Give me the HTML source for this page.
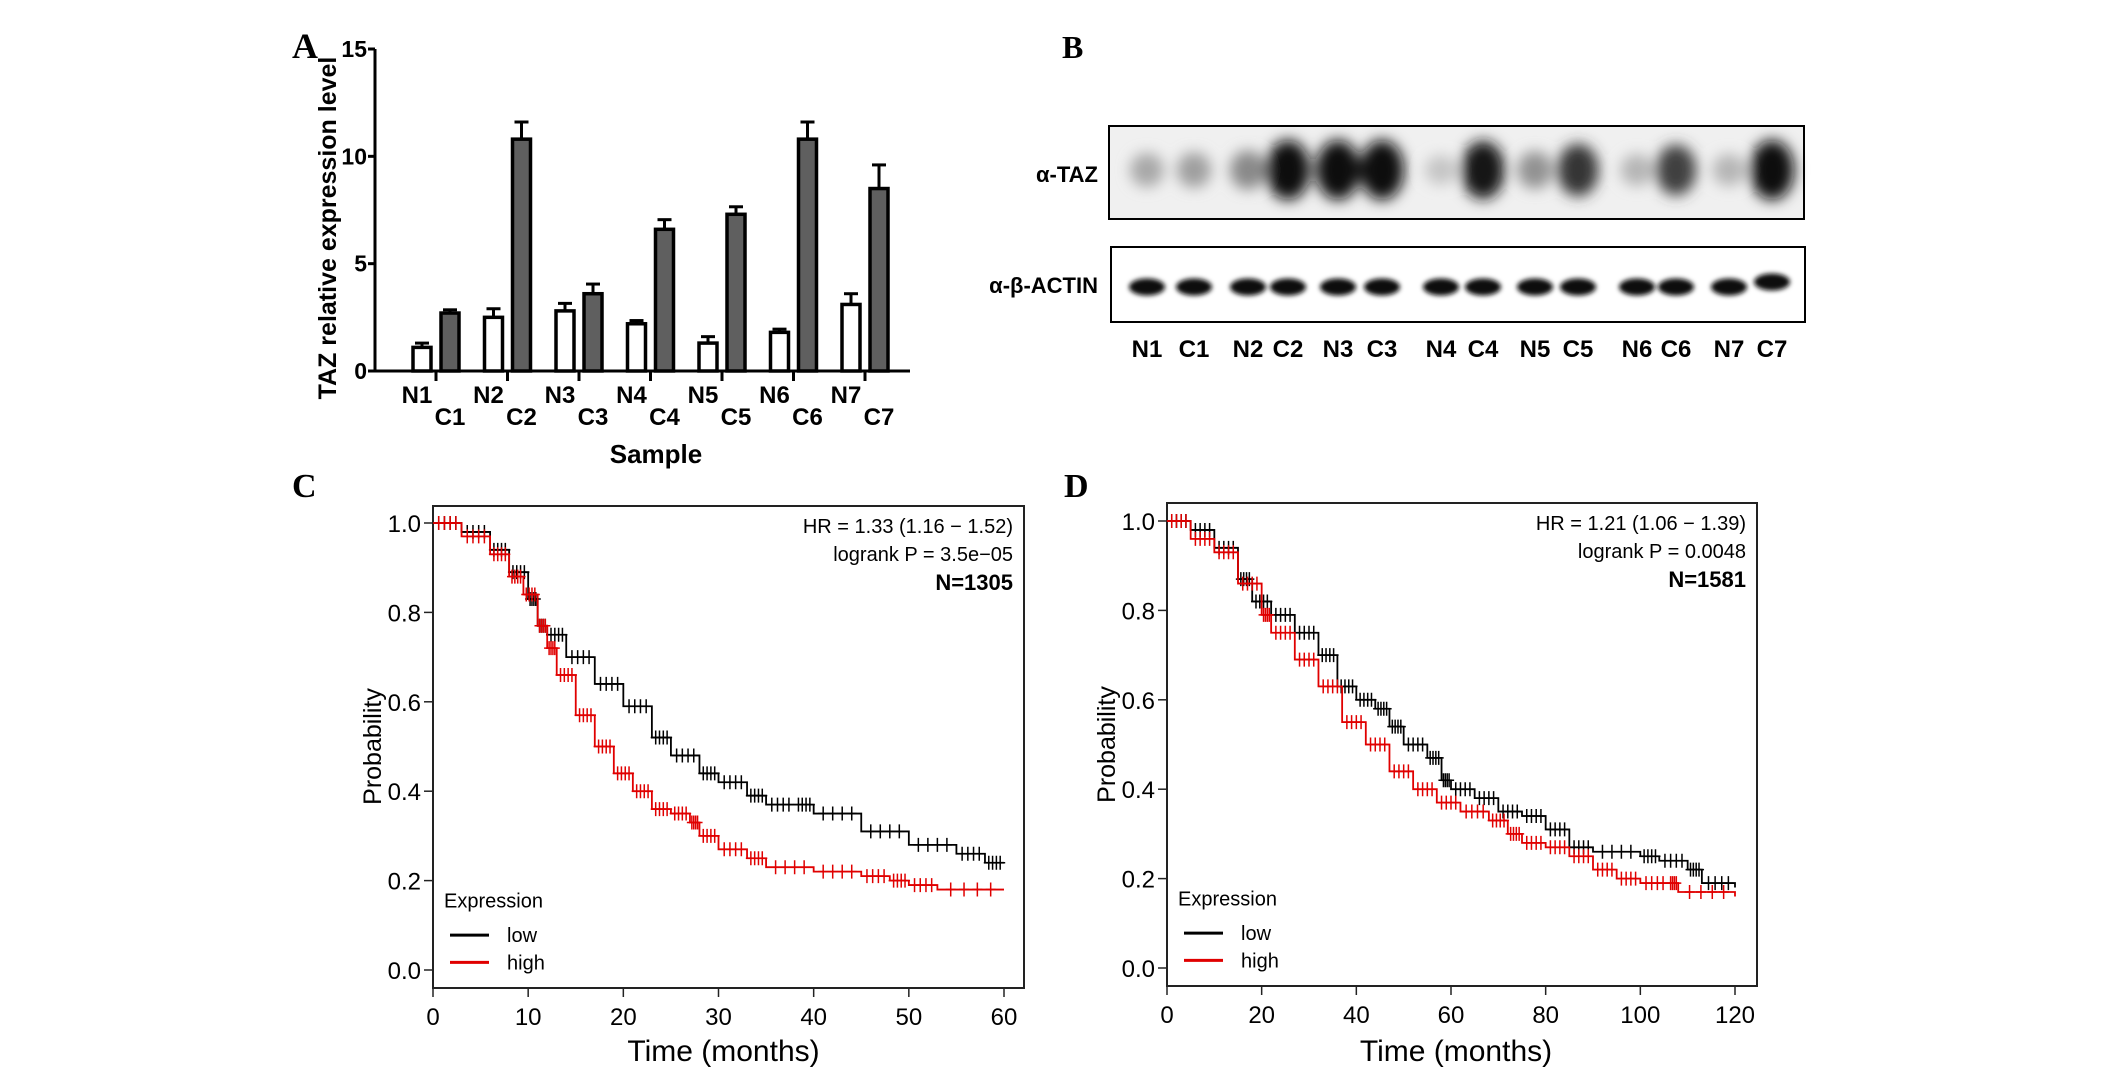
<!DOCTYPE html>
<html><head><meta charset="utf-8"><style>
body{margin:0;background:#fff;}
svg{display:block;font-family:"Liberation Sans",sans-serif;}
</style></head><body>
<svg id="fig" width="2126" height="1068" viewBox="0 0 2126 1068">
<defs>
<filter id="blur6" x="-50%" y="-50%" width="200%" height="200%"><feGaussianBlur stdDeviation="7"/></filter>
<filter id="blur3" x="-50%" y="-50%" width="200%" height="200%"><feGaussianBlur stdDeviation="2.5"/></filter>
</defs>
<text x="292" y="58" font-family="Liberation Serif" font-weight="bold" font-size="36">A</text>
<text x="1062" y="58" font-family="Liberation Serif" font-weight="bold" font-size="32">B</text>
<text x="292" y="497" font-family="Liberation Serif" font-weight="bold" font-size="34">C</text>
<text x="1064" y="497" font-family="Liberation Serif" font-weight="bold" font-size="34">D</text>
<g id="panelA"></g>
<g id="panelB"></g>
<g id="panelC"></g>
<g id="panelD"></g>
</svg>
<script>
// ---- Panel A data ----
const samples = ["1","2","3","4","5","6","7"];
const normalVals = [1.1,2.5,2.8,2.2,1.3,1.8,3.1];
const normalErr = [0.2,0.4,0.35,0.15,0.3,0.15,0.5];
const cancerVals = [2.7,10.8,3.6,6.6,7.3,10.8,8.5];
const cancerErr = [0.15,0.8,0.45,0.45,0.35,0.8,1.1];
const aTicks = [0,5,10,15];
// ---- Panel B data ----
const laneLabels = ["N1","C1","N2","C2","N3","C3","N4","C4","N5","C5","N6","C6","N7","C7"];
const tazIntensity = [0.28,0.32,0.42,1,1,1,0.15,0.95,0.38,0.8,0.22,0.75,0.22,1];
const actinIntensity = [0.9,0.95,0.95,0.92,1,0.95,0.95,0.97,0.9,0.92,0.95,0.95,0.92,0.95];
// ---- Panel C data ----
const cLowT = [0,3,6,8,10,11,12,14,17,20,23,25,28,30,33,35,38,40,45,50,55,58,60];
const cLowS = [1,0.98,0.94,0.89,0.83,0.77,0.75,0.7,0.64,0.59,0.52,0.48,0.44,0.42,0.39,0.37,0.37,0.35,0.31,0.28,0.26,0.24,0.24];
const cHighT = [0,3,6,8,9.5,11,12,13,15,17,19,21,23,25,27,28,30,33,35,40,45,48,50,53,60];
const cHighS = [1,0.97,0.93,0.88,0.84,0.77,0.72,0.66,0.57,0.5,0.44,0.4,0.36,0.35,0.33,0.3,0.27,0.25,0.23,0.22,0.21,0.2,0.19,0.18,0.18];
const cXTicks = [0,10,20,30,40,50,60];
// ---- Panel D data ----
const dLowT = [0,5,10,15,18,22,27,32,36,40,44,47,50,55,58,60,65,70,75,80,85,90,100,104,110,113,120];
const dLowS = [1,0.98,0.94,0.87,0.82,0.79,0.75,0.7,0.63,0.6,0.58,0.54,0.5,0.47,0.42,0.4,0.38,0.35,0.34,0.31,0.27,0.26,0.25,0.24,0.22,0.19,0.18];
const dHighT = [0,5,10,15,20,22,27,32,37,42,47,52,57,62,68,72,75,80,85,90,95,100,106,108,120];
const dHighS = [1,0.96,0.93,0.86,0.79,0.75,0.69,0.63,0.55,0.5,0.44,0.4,0.37,0.35,0.33,0.3,0.28,0.27,0.25,0.22,0.2,0.19,0.19,0.17,0.16];
const dXTicks = [0,20,40,60,80,100,120];
const yTicksKM = [0,0.2,0.4,0.6,0.8,1.0];

const NS="http://www.w3.org/2000/svg";
function mk(parent,tag,attrs,txt){const e=document.createElementNS(NS,tag);for(const k in attrs)e.setAttribute(k,attrs[k]);if(txt!==undefined)e.textContent=txt;parent.appendChild(e);return e;}

// ===== Panel A =====
(function(){
const g=document.getElementById('panelA');
const x0=375,y0=371,yTop=49,xEnd=910;
const ya=v=>y0-(v/15)*(y0-yTop);
const gx=i=>436+i*71.5;
let ax=mk(g,'line',{x1:x0,y1:yTop,x2:x0,y2:y0+1,stroke:'#000','stroke-width':3});


let bx=mk(g,'line',{x1:x0-1,y1:y0,x2:xEnd,y2:y0,stroke:'#000','stroke-width':3});


aTicks.forEach(t=>{
 mk(g,'line',{x1:x0-7,y1:ya(t),x2:x0,y2:ya(t),stroke:'#000','stroke-width':3});
 let tl=mk(g,'text',{x:x0-8,y:ya(t)+8,'text-anchor':'end','font-size':23,'font-weight':'bold'},t);
 
 
});
samples.forEach((s,i)=>{
 const c=gx(i);
 mk(g,'line',{x1:c,y1:y0,x2:c,y2:y0+10,stroke:'#000','stroke-width':3});
 let yn=ya(normalVals[i]);
 let ne=ya(normalVals[i]+normalErr[i]);
 mk(g,'line',{x1:c-14,y1:yn,x2:c-14,y2:ne,stroke:'#000','stroke-width':3});
 mk(g,'line',{x1:c-21,y1:ne,x2:c-7,y2:ne,stroke:'#000','stroke-width':3});
 let nb=mk(g,'rect',{x:c-23,y:yn,width:18,height:y0-yn,fill:'#fff',stroke:'#000','stroke-width':3.5});
 
 
 let yc=ya(cancerVals[i]);
 let ce=ya(cancerVals[i]+cancerErr[i]);
 mk(g,'line',{x1:c+14,y1:yc,x2:c+14,y2:ce,stroke:'#000','stroke-width':3});
 mk(g,'line',{x1:c+7,y1:ce,x2:c+21,y2:ce,stroke:'#000','stroke-width':3});
 let cb=mk(g,'rect',{x:c+5,y:yc,width:18,height:y0-yc,fill:'#5f5f5f',stroke:'#000','stroke-width':3.5});
 
 
 let nl=mk(g,'text',{x:c-19,y:403,'text-anchor':'middle','font-size':24,'font-weight':'bold'},'N'+s);
 
 
 let cl=mk(g,'text',{x:c+14,y:425,'text-anchor':'middle','font-size':24,'font-weight':'bold'},'C'+s);
 
 
});
let xt=mk(g,'text',{x:656,y:463,'text-anchor':'middle','font-size':26,'font-weight':'bold'},'Sample');


let yt=mk(g,'text',{x:0,y:0,transform:'translate(336,228) rotate(-90)','text-anchor':'middle','font-size':25,'font-weight':'bold'},'TAZ relative expression level');


})();

// ===== Panel B =====
(function(){
const g=document.getElementById('panelB');
const laneX=[1147,1194,1248,1288,1338,1382,1441,1483,1535,1578,1637,1676,1729,1772];
mk(g,'rect',{x:1109,y:126,width:695,height:93,fill:'#f0f0f0'});
const t=mk(g,'g',{filter:'url(#blur6)'});
laneLabels.forEach((l,i)=>{
 const v=tazIntensity[i];
 const sh=Math.round(230-222*v);
 let e=mk(t,'ellipse',{cx:laneX[i],cy:170,rx:15+7*v,ry:12+18*v,fill:`rgb(${sh},${sh},${sh})`});
 
 
});
let b1=mk(g,'rect',{x:1109,y:126,width:695,height:93,fill:'none',stroke:'#000','stroke-width':2});


mk(g,'rect',{x:1111,y:247,width:694,height:75,fill:'#fff'});
const a=mk(g,'g',{filter:'url(#blur3)'});
laneLabels.forEach((l,i)=>{
 const v=actinIntensity[i];
 const sh=Math.round(60-50*v);
 let e=mk(a,'ellipse',{cx:laneX[i],cy:287-(i===13?5:0),rx:18,ry:8.5,fill:`rgb(${sh},${sh},${sh})`});
 
 
});
let b2=mk(g,'rect',{x:1111,y:247,width:694,height:75,fill:'none',stroke:'#000','stroke-width':2});


let l1=mk(g,'text',{x:1098,y:182,'text-anchor':'end','font-size':22,'font-weight':'bold'},'α-TAZ');


let l2=mk(g,'text',{x:1098,y:293,'text-anchor':'end','font-size':22,'font-weight':'bold'},'α-β-ACTIN');


laneLabels.forEach((l,i)=>{
 let tl=mk(g,'text',{x:laneX[i],y:357,'text-anchor':'middle','font-size':24,'font-weight':'bold'},l);
 
 
});
})();

// ===== KM plots =====
function km(gid,box,xmax,xTicks,low,high,hr,p,n){
const g=document.getElementById(gid);
const {L,R,T,B,y1,y0,x0,x1}=box;
const sx=v=>x0+(v/xmax)*(x1-x0);
const sy=v=>y0-v*(y0-y1);
let fr=mk(g,'rect',{x:L,y:T,width:R-L,height:B-T,fill:'none',stroke:'#222','stroke-width':2});


yTicksKM.forEach(t=>{
 mk(g,'line',{x1:L-9,y1:sy(t),x2:L,y2:sy(t),stroke:'#222','stroke-width':1.5});
 let tl=mk(g,'text',{x:L-12,y:sy(t)+9,'text-anchor':'end','font-size':24},t.toFixed(1));
 
 
});
xTicks.forEach(t=>{
 mk(g,'line',{x1:sx(t),y1:B,x2:sx(t),y2:B+9,stroke:'#222','stroke-width':1.5});
 let tl=mk(g,'text',{x:sx(t),y:B+37,'text-anchor':'middle','font-size':24},t);
 
 
});
[[low,'#000','low'],[high,'#e00000','high']].forEach(([s,col,nm])=>{
 const [ts,ss]=s;
 let d=`M${sx(ts[0])},${sy(ss[0])}`;
 for(let i=1;i<ts.length;i++){d+=` H${sx(ts[i])} V${sy(ss[i])}`;}
 let pth=mk(g,'path',{d:d,fill:'none',stroke:col,'stroke-width':1.8});
 
 
 for(let i=1;i<ts.length;i++){
  for(let k=0;k<4;k++){
   const tt=ts[i-1]+(ts[i]-ts[i-1])*(0.2+0.2*k);
   const X=sx(tt),Y=sy(ss[i-1]);
   let c=mk(g,'path',{d:`M${X-5},${Y}H${X+5}M${X},${Y-7}V${Y+7}`,stroke:col,'stroke-width':1.5});
   
   
  }
 }
});
let h1=mk(g,'text',{x:R-11,y:T+27,'text-anchor':'end','font-size':20},hr);


let h2=mk(g,'text',{x:R-11,y:T+55,'text-anchor':'end','font-size':20},p);


let h3=mk(g,'text',{x:R-11,y:T+84,'text-anchor':'end','font-size':22,'font-weight':'bold'},n);


let le=mk(g,'text',{x:L+11,y:sy(0.155)+7,'font-size':20},'Expression');


mk(g,'line',{x1:L+17,y1:sy(0.078),x2:L+56,y2:sy(0.078),stroke:'#000','stroke-width':3});
let ll=mk(g,'text',{x:L+74,y:sy(0.078)+7,'font-size':20},'low');


mk(g,'line',{x1:L+17,y1:sy(0.017),x2:L+56,y2:sy(0.017),stroke:'#e00000','stroke-width':3});
let lh=mk(g,'text',{x:L+74,y:sy(0.017)+7,'font-size':20},'high');


let xt=mk(g,'text',{x:(x0+x1)/2+5,y:1061,'text-anchor':'middle','font-size':30},'Time (months)');


let yt=mk(g,'text',{x:0,y:0,transform:`translate(${L-52},${(y0+y1)/2}) rotate(-90)`,'text-anchor':'middle','font-size':25},'Probability');


}
km('panelC',{L:433,R:1024,T:506,B:988,y1:523,y0:970,x0:433,x1:1004},60,cXTicks,[cLowT,cLowS],[cHighT,cHighS],'HR = 1.33 (1.16 − 1.52)','logrank P = 3.5e−05','N=1305');
km('panelD',{L:1167,R:1757,T:503,B:986,y1:521,y0:968,x0:1167,x1:1735},120,dXTicks,[dLowT,dLowS],[dHighT,dHighS],'HR = 1.21 (1.06 − 1.39)','logrank P = 0.0048','N=1581');
</script>
</body></html>
